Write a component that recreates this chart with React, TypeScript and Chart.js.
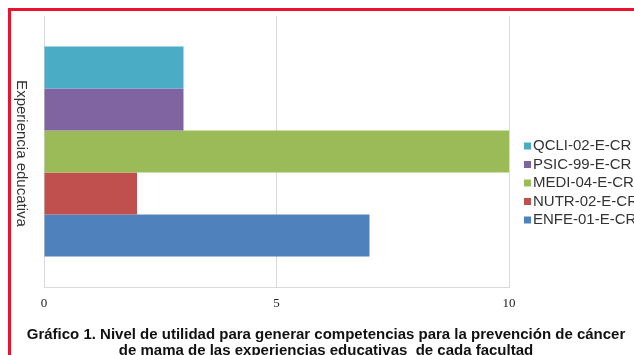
import React, { useEffect, useRef } from "react";
import { Chart, registerables } from "chart.js";

Chart.register(...registerables);

const categories = [""];
const seriesNames = ["QCLI-02-E-CR", "PSIC-99-E-CR", "MEDI-04-E-CR", "NUTR-02-E-CR", "ENFE-01-E-CR"];
const seriesValues = [3, 3, 10, 2, 7];
const seriesColors = ["#4bacc6", "#8064a2", "#9bbb59", "#c0504d", "#4f81bd"];
const xTicks = [0, 5, 10];
const yTitle = "Experiencia educativa";
const titleLines = [
  "Gráfico 1. Nivel de utilidad para generar competencias para la prevención de cáncer",
  "de mama de las experiencias educativas  de cada facultad",
];

const decorPlugin = {
  id: "decor",
  afterDraw(chart: any) {
    const ctx = chart.ctx;
    const area = chart.chartArea;
    ctx.save();
    ctx.font = "15px Arial, 'Liberation Sans', sans-serif";
    ctx.fillStyle = "#333";
    ctx.textAlign = "center";
    ctx.textBaseline = "middle";
    ctx.translate(21, (area.top + area.bottom) / 2 + 2);
    ctx.rotate(Math.PI / 2);
    ctx.fillText(yTitle, 0, 0);
    ctx.restore();

    ctx.save();
    ctx.font = "15px Arial, 'Liberation Sans', sans-serif";
    ctx.textBaseline = "middle";
    ctx.textAlign = "left";
    const y0 = 146;
    const step = 18.5;
    seriesNames.forEach((n, i) => {
      const y = y0 + i * step;
      ctx.fillStyle = seriesColors[i];
      ctx.fillRect(524, y - 3.5, 7, 7);
      ctx.fillStyle = "#333";
      ctx.fillText(n, 533, y);
    });
    ctx.restore();

    ctx.save();
    ctx.font = "bold 15px Arial, 'Liberation Sans', sans-serif";
    ctx.fillStyle = "#111";
    ctx.textAlign = "center";
    ctx.textBaseline = "middle";
    ctx.fillText(titleLines[0], 326, 335);
    ctx.fillText(titleLines[1], 326, 351);
    ctx.restore();
  },
};

export default function App() {
  const ref = useRef<HTMLCanvasElement | null>(null);
  useEffect(() => {
    if (!ref.current) return;
    const chart = new Chart(ref.current, {
      type: "bar",
      data: {
        labels: categories,
        datasets: seriesNames.map((n, i) => ({
          label: n,
          data: [seriesValues[i]],
          backgroundColor: seriesColors[i],
          borderWidth: 0,
          categoryPercentage: 0.775,
          barPercentage: 1,
        })),
      },
      options: {
        indexAxis: "y",
        animation: false,
        responsive: false,
        maintainAspectRatio: false,
        layout: { padding: { left: 0, right: 125, top: 16, bottom: 0 } },
        plugins: {
          legend: { display: false },
          title: { display: false },
          tooltip: { enabled: false },
        },
        scales: {
          x: {
            min: 0,
            max: 10,
            afterBuildTicks(scale: any) {
              scale.ticks = xTicks.map((v) => ({ value: v }));
            },
            afterFit(scale: any) {
              scale.height = 68;
            },
            grid: { color: "#d9d9d9", drawTicks: false, lineWidth: 1 },
            border: { color: "#d9d9d9" },
            ticks: {
              padding: 9,
              color: "#222",
              font: { family: "'Liberation Serif', 'Times New Roman', serif", size: 13 },
            },
          },
          y: {
            afterFit(scale: any) {
              scale.width = 44;
            },
            grid: { display: false, drawTicks: false },
            border: { color: "#d9d9d9" },
            ticks: { display: false },
          },
        },
      },
      plugins: [decorPlugin],
    });
    return () => chart.destroy();
  }, []);

  return (
    <div style={{ position: "fixed", left: 0, top: 0, width: 634, height: 355, overflow: "hidden", background: "#fff" }}>
      <div
        style={{
          position: "absolute",
          left: 8,
          top: 8,
          width: 700,
          height: 400,
          borderLeft: "3px solid #e8142e",
          borderTop: "3px solid #e8142e",
          boxSizing: "border-box",
        }}
      />
      <canvas ref={ref} width={634} height={355} style={{ position: "absolute", left: 0, top: 0 }} />
    </div>
  );
}
